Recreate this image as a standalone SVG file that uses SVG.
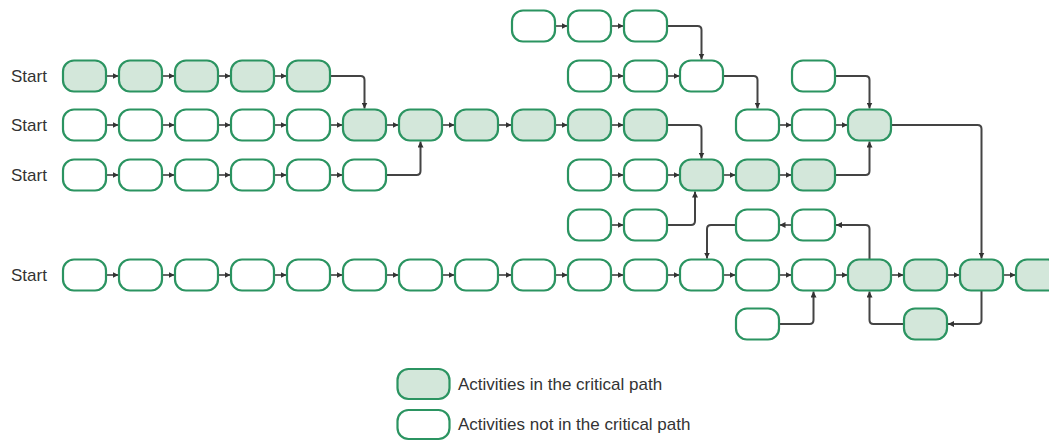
<svg xmlns="http://www.w3.org/2000/svg" width="1049" height="441" viewBox="0 0 1049 441">
  <style>
    .c { fill: #d3e7da; stroke: #2b9461; stroke-width: 2.2; }
    .n { fill: #ffffff; stroke: #2b9461; stroke-width: 2.2; }
    .lbl { font-family: "Liberation Sans", Arial, sans-serif; font-size: 17px; fill: #333333; }
    .ln { fill: none; stroke: #3f3f3f; stroke-width: 1.6; marker-end: url(#ah); }
    .el { fill: none; stroke: #444444; stroke-width: 2; stroke-linejoin: round; marker-end: url(#ah); }
  </style>
  <defs>
    <marker id="ah" markerUnits="userSpaceOnUse" markerWidth="7" markerHeight="6" refX="6" refY="3" orient="auto">
      <path d="M0,0 L6,3 L0,6 z" fill="#333333"/>
    </marker>
    <rect id="nd" width="43" height="31" rx="11" ry="11"/>
  </defs>

  <rect width="1049" height="441" fill="#ffffff"/>

  <!-- Start labels -->
  <g id="labels">
    <text class="lbl" x="11" y="82">Start</text>
    <text class="lbl" x="11" y="131">Start</text>
    <text class="lbl" x="11" y="181">Start</text>
    <text class="lbl" x="11" y="281">Start</text>
  </g>

  <!-- connectors -->
  <g id="connectors">
    <!-- row 0 chain -->
    <line class="ln" x1="555" y1="26" x2="567.5" y2="26"/>
    <line class="ln" x1="611" y1="26" x2="623.5" y2="26"/>
    <!-- row 1 chains -->
    <line class="ln" x1="106" y1="76" x2="118.5" y2="76"/>
    <line class="ln" x1="162" y1="76" x2="174.5" y2="76"/>
    <line class="ln" x1="218" y1="76" x2="230.5" y2="76"/>
    <line class="ln" x1="274" y1="76" x2="286.5" y2="76"/>
    <line class="ln" x1="611" y1="76" x2="623.5" y2="76"/>
    <line class="ln" x1="667" y1="76" x2="679.5" y2="76"/>
    <!-- row 2 chains -->
    <line class="ln" x1="106" y1="125" x2="118.5" y2="125"/>
    <line class="ln" x1="162" y1="125" x2="174.5" y2="125"/>
    <line class="ln" x1="218" y1="125" x2="230.5" y2="125"/>
    <line class="ln" x1="274" y1="125" x2="286.5" y2="125"/>
    <line class="ln" x1="330" y1="125" x2="342.5" y2="125"/>
    <line class="ln" x1="386" y1="125" x2="398.5" y2="125"/>
    <line class="ln" x1="442" y1="125" x2="454.5" y2="125"/>
    <line class="ln" x1="498" y1="125" x2="511.5" y2="125"/>
    <line class="ln" x1="555" y1="125" x2="567.5" y2="125"/>
    <line class="ln" x1="611" y1="125" x2="623.5" y2="125"/>
    <line class="ln" x1="779" y1="125" x2="791.5" y2="125"/>
    <line class="ln" x1="835" y1="125" x2="847.5" y2="125"/>
    <!-- row 3 chains -->
    <line class="ln" x1="106" y1="175" x2="118.5" y2="175"/>
    <line class="ln" x1="162" y1="175" x2="174.5" y2="175"/>
    <line class="ln" x1="218" y1="175" x2="230.5" y2="175"/>
    <line class="ln" x1="274" y1="175" x2="286.5" y2="175"/>
    <line class="ln" x1="330" y1="175" x2="342.5" y2="175"/>
    <line class="ln" x1="611" y1="175" x2="623.5" y2="175"/>
    <line class="ln" x1="667" y1="175" x2="679.5" y2="175"/>
    <line class="ln" x1="723" y1="175" x2="735.5" y2="175"/>
    <line class="ln" x1="779" y1="175" x2="791.5" y2="175"/>
    <!-- row 4 chains -->
    <line class="ln" x1="611" y1="225" x2="623.5" y2="225"/>
    <line class="ln" x1="792" y1="225" x2="779.5" y2="225"/>
    <!-- row 5 chain -->
    <line class="ln" x1="106" y1="275" x2="118.5" y2="275"/>
    <line class="ln" x1="162" y1="275" x2="174.5" y2="275"/>
    <line class="ln" x1="218" y1="275" x2="230.5" y2="275"/>
    <line class="ln" x1="274" y1="275" x2="286.5" y2="275"/>
    <line class="ln" x1="330" y1="275" x2="342.5" y2="275"/>
    <line class="ln" x1="386" y1="275" x2="398.5" y2="275"/>
    <line class="ln" x1="442" y1="275" x2="454.5" y2="275"/>
    <line class="ln" x1="498" y1="275" x2="511.5" y2="275"/>
    <line class="ln" x1="555" y1="275" x2="567.5" y2="275"/>
    <line class="ln" x1="611" y1="275" x2="623.5" y2="275"/>
    <line class="ln" x1="667" y1="275" x2="679.5" y2="275"/>
    <line class="ln" x1="723" y1="275" x2="735.5" y2="275"/>
    <line class="ln" x1="779" y1="275" x2="791.5" y2="275"/>
    <line class="ln" x1="835" y1="275" x2="847.5" y2="275"/>
    <line class="ln" x1="891" y1="275" x2="903.5" y2="275"/>
    <line class="ln" x1="947" y1="275" x2="959.5" y2="275"/>
    <line class="ln" x1="1003" y1="275" x2="1015.5" y2="275"/>

    <!-- elbow links between rows -->
    <path class="el" d="M667,26 H697.5 Q701.5,26 701.5,30 V59.5"/>
    <path class="el" d="M330,76 H360.5 Q364.5,76 364.5,80 V108.5"/>
    <path class="el" d="M723,76 H753.5 Q757.5,76 757.5,80 V108.5"/>
    <path class="el" d="M835,76 H865.5 Q869.5,76 869.5,80 V108.5"/>
    <path class="el" d="M667,125 H697.5 Q701.5,125 701.5,129 V158.5"/>
    <path class="el" d="M891,125 H977.5 Q981.5,125 981.5,129 V258.5"/>
    <path class="el" d="M386,175 H416.5 Q420.5,175 420.5,171 V141.5"/>
    <path class="el" d="M835,175 H865.5 Q869.5,175 869.5,171 V141.5"/>
    <path class="el" d="M667,225 H691 Q695,225 695,221 V191.5"/>
    <path class="el" d="M869.5,259.5 V229 Q869.5,225 865.5,225 H836"/>
    <path class="el" d="M736,225 H711 Q707,225 707,229 V258.5"/>
    <path class="el" d="M779,324 H809.5 Q813.5,324 813.5,320 V291.5"/>
    <path class="el" d="M981.5,290.5 V320 Q981.5,324 977.5,324 H948"/>
    <path class="el" d="M904,324 H873.5 Q869.5,324 869.5,320 V291.5"/>
  </g>

  <!-- row 0 -->
  <g id="r0c8"><use href="#nd" class="n" x="512" y="10.5"/></g>
  <g id="r0c9"><use href="#nd" class="n" x="568" y="10.5"/></g>
  <g id="r0c10"><use href="#nd" class="n" x="624" y="10.5"/></g>

  <!-- row 1 -->
  <g id="r1c0"><use href="#nd" class="c" x="63" y="60.5"/></g>
  <g id="r1c1"><use href="#nd" class="c" x="119" y="60.5"/></g>
  <g id="r1c2"><use href="#nd" class="c" x="175" y="60.5"/></g>
  <g id="r1c3"><use href="#nd" class="c" x="231" y="60.5"/></g>
  <g id="r1c4"><use href="#nd" class="c" x="287" y="60.5"/></g>
  <g id="r1c9"><use href="#nd" class="n" x="568" y="60.5"/></g>
  <g id="r1c10"><use href="#nd" class="n" x="624" y="60.5"/></g>
  <g id="r1c11"><use href="#nd" class="n" x="680" y="60.5"/></g>
  <g id="r1c13"><use href="#nd" class="n" x="792" y="60.5"/></g>

  <!-- row 2 -->
  <g id="r2c0"><use href="#nd" class="n" x="63" y="109.5"/></g>
  <g id="r2c1"><use href="#nd" class="n" x="119" y="109.5"/></g>
  <g id="r2c2"><use href="#nd" class="n" x="175" y="109.5"/></g>
  <g id="r2c3"><use href="#nd" class="n" x="231" y="109.5"/></g>
  <g id="r2c4"><use href="#nd" class="n" x="287" y="109.5"/></g>
  <g id="r2c5"><use href="#nd" class="c" x="343" y="109.5"/></g>
  <g id="r2c6"><use href="#nd" class="c" x="399" y="109.5"/></g>
  <g id="r2c7"><use href="#nd" class="c" x="455" y="109.5"/></g>
  <g id="r2c8"><use href="#nd" class="c" x="512" y="109.5"/></g>
  <g id="r2c9"><use href="#nd" class="c" x="568" y="109.5"/></g>
  <g id="r2c10"><use href="#nd" class="c" x="624" y="109.5"/></g>
  <g id="r2c12"><use href="#nd" class="n" x="736" y="109.5"/></g>
  <g id="r2c13"><use href="#nd" class="n" x="792" y="109.5"/></g>
  <g id="r2c14"><use href="#nd" class="c" x="848" y="109.5"/></g>

  <!-- row 3 -->
  <g id="r3c0"><use href="#nd" class="n" x="63" y="159.5"/></g>
  <g id="r3c1"><use href="#nd" class="n" x="119" y="159.5"/></g>
  <g id="r3c2"><use href="#nd" class="n" x="175" y="159.5"/></g>
  <g id="r3c3"><use href="#nd" class="n" x="231" y="159.5"/></g>
  <g id="r3c4"><use href="#nd" class="n" x="287" y="159.5"/></g>
  <g id="r3c5"><use href="#nd" class="n" x="343" y="159.5"/></g>
  <g id="r3c9"><use href="#nd" class="n" x="568" y="159.5"/></g>
  <g id="r3c10"><use href="#nd" class="n" x="624" y="159.5"/></g>
  <g id="r3c11"><use href="#nd" class="c" x="680" y="159.5"/></g>
  <g id="r3c12"><use href="#nd" class="c" x="736" y="159.5"/></g>
  <g id="r3c13"><use href="#nd" class="c" x="792" y="159.5"/></g>

  <!-- row 4 -->
  <g id="r4c9"><use href="#nd" class="n" x="568" y="209.5"/></g>
  <g id="r4c10"><use href="#nd" class="n" x="624" y="209.5"/></g>
  <g id="r4c12"><use href="#nd" class="n" x="736" y="209.5"/></g>
  <g id="r4c13"><use href="#nd" class="n" x="792" y="209.5"/></g>

  <!-- row 5 -->
  <g id="r5c0"><use href="#nd" class="n" x="63" y="259.5"/></g>
  <g id="r5c1"><use href="#nd" class="n" x="119" y="259.5"/></g>
  <g id="r5c2"><use href="#nd" class="n" x="175" y="259.5"/></g>
  <g id="r5c3"><use href="#nd" class="n" x="231" y="259.5"/></g>
  <g id="r5c4"><use href="#nd" class="n" x="287" y="259.5"/></g>
  <g id="r5c5"><use href="#nd" class="n" x="343" y="259.5"/></g>
  <g id="r5c6"><use href="#nd" class="n" x="399" y="259.5"/></g>
  <g id="r5c7"><use href="#nd" class="n" x="455" y="259.5"/></g>
  <g id="r5c8"><use href="#nd" class="n" x="512" y="259.5"/></g>
  <g id="r5c9"><use href="#nd" class="n" x="568" y="259.5"/></g>
  <g id="r5c10"><use href="#nd" class="n" x="624" y="259.5"/></g>
  <g id="r5c11"><use href="#nd" class="n" x="680" y="259.5"/></g>
  <g id="r5c12"><use href="#nd" class="n" x="736" y="259.5"/></g>
  <g id="r5c13"><use href="#nd" class="n" x="792" y="259.5"/></g>
  <g id="r5c14"><use href="#nd" class="c" x="848" y="259.5"/></g>
  <g id="r5c15"><use href="#nd" class="c" x="904" y="259.5"/></g>
  <g id="r5c16"><use href="#nd" class="c" x="960" y="259.5"/></g>
  <g id="r5c17"><use href="#nd" class="c" x="1016" y="259.5"/></g>

  <!-- row 6 -->
  <g id="r6c12"><use href="#nd" class="n" x="736" y="308.5"/></g>
  <g id="r6c15"><use href="#nd" class="c" x="904" y="308.5"/></g>

  <!-- legend -->
  <g id="legend-critical">
    <rect class="c" x="397.5" y="369" width="52" height="30" rx="11" ry="11"/>
    <text class="lbl" x="458" y="390">Activities in the critical path</text>
  </g>
  <g id="legend-normal">
    <rect class="n" x="397.5" y="410" width="52" height="29" rx="11" ry="11"/>
    <text class="lbl" x="458" y="430">Activities not in the critical path</text>
  </g>
</svg>
